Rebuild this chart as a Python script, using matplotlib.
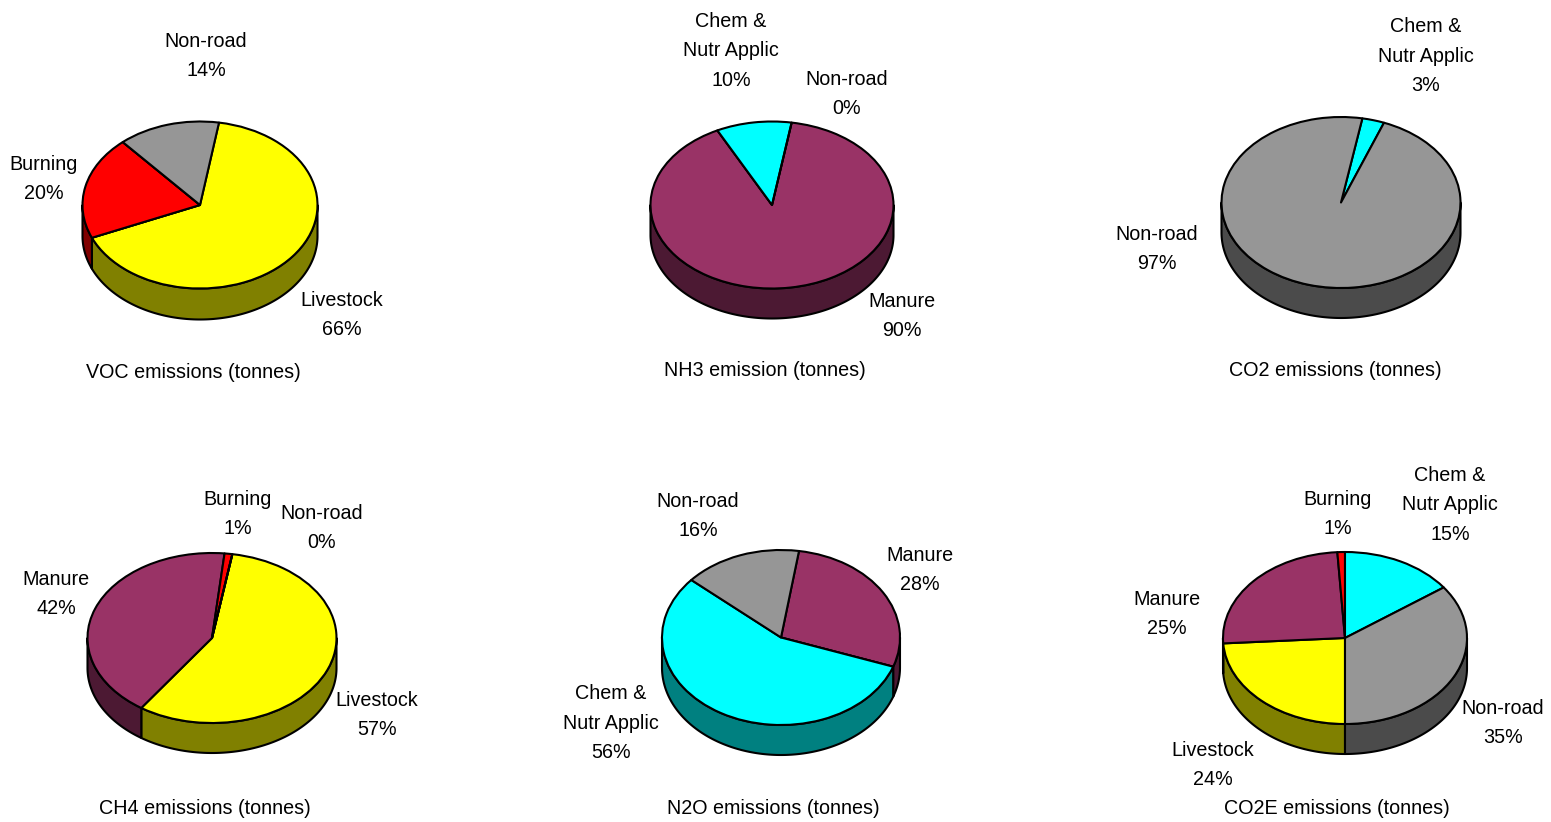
import matplotlib
matplotlib.use("Agg")
import matplotlib.pyplot as plt
import numpy as np

W, H, DPI = 1551, 822, 100

# Source categories, in the order the slices run clockwise
categories = ["Livestock", "Manure", "Burning", "Chem &\nNutr Applic", "Non-road"]
top_colors = ["#FFFF00", "#993366", "#FF0000", "#00FFFF", "#969696"]
side_colors = ["#808000", "#4C1933", "#800000", "#008080", "#4B4B4B"]

# Share of emissions (%) by source
voc = [66, 0, 20, 0, 14]
nh3 = [0, 90, 0, 10, 0]
co2 = [0, 0, 0, 3, 97]
ch4 = [57, 42, 1, 0, 0]
n2o = [0, 28, 0, 56, 16]
co2e = [24, 25, 1, 15, 35]

titles = ["VOC emissions (tonnes)", "NH3 emission (tonnes)", "CO2 emissions (tonnes)",
          "CH4 emissions (tonnes)", "N2O emissions (tonnes)", "CO2E emissions (tonnes)"]

# Angle of the first slice, degrees clockwise from 12 o'clock
first_slice = [9.3, 9.3, 10.3, 9.4, 8.7, 180.0]

# Layout in pixels: centre x, centre y, x radius, y radius, depth
geometry = [
    (200, 205, 117.5, 83.5, 31),
    (772, 205, 121.5, 83.5, 30),
    (1341, 202.5, 119.5, 85.5, 30),
    (212, 638, 124.5, 85, 30),
    (781, 637.5, 119, 87.5, 30),
    (1345, 638, 122, 86, 30),
]
title_pos = [(193, 372), (765, 370), (1335, 370), (205, 808), (773, 808), (1337, 808)]
# Data-label positions (pixels) keyed by category index
label_pos = [
    {4: (206, 56), 2: (44, 179), 0: (342, 315)},
    {3: (731, 51), 4: (847, 94), 1: (902, 316)},
    {3: (1426, 56), 4: (1157, 249)},
    {2: (238, 514), 4: (322, 528), 1: (56, 594), 0: (377, 715)},
    {4: (698, 516), 1: (920, 570), 3: (611, 723)},
    {2: (1338, 514), 3: (1450, 505), 1: (1167, 614), 4: (1503, 723), 0: (1213, 765)},
]

FONT = dict(family="Liberation Sans", size=14.2, color="black")
LW = 1.5

fig = plt.figure(figsize=(W / DPI, H / DPI), dpi=DPI, facecolor="white")


def ftext(x, y, s, **kw):
    fig.text(x / W, 1 - y / H, s, ha="center", va="center", multialignment="center",
             linespacing=1.71, **FONT, **kw)


def draw_pie(values, geom, start):
    cx, cy, rx, ry, depth = geom
    d = depth / ry
    pad = 0.1
    x0, x1 = cx - rx * (1 + pad), cx + rx * (1 + pad)
    ytop, ybot = cy - ry * (1 + pad), cy + ry * (1 + pad) + depth
    ax = fig.add_axes([x0 / W, 1 - ybot / H, (x1 - x0) / W, (ybot - ytop) / H])
    wedges, _ = ax.pie(values, colors=top_colors, startangle=90 - start,
                       counterclock=False, normalize=True,
                       wedgeprops=dict(edgecolor="black", linewidth=LW, zorder=3,
                                       joinstyle="round"))
    ax.set_aspect("auto")
    ax.set_xlim(-1 - pad, 1 + pad)
    ax.set_ylim(-1 - pad - d, 1 + pad)
    ax.axis("off")
    # Side walls of the front half of each slice
    for w, sc in zip(wedges, side_colors):
        a, b = w.theta1, w.theta2
        if b - a <= 0:
            continue
        for k in range(-2, 3):
            lo, hi = max(a, 180 + 360 * k), min(b, 360 + 360 * k)
            if hi > lo:
                t = np.radians(np.linspace(lo, hi, 200))
                xs = np.concatenate([np.cos(t), np.cos(t[::-1])])
                ys = np.concatenate([np.sin(t), np.sin(t[::-1]) - d])
                ax.fill(xs, ys, facecolor=sc, edgecolor="black", linewidth=LW,
                        zorder=1, joinstyle="round", clip_on=False)
    for w in wedges:
        w.set_clip_on(False)
    return ax


series = [voc, nh3, co2, ch4, n2o, co2e]
for vals, geom, start, title, tpos, lpos in zip(series, geometry, first_slice,
                                                titles, title_pos, label_pos):
    draw_pie(vals, geom, start)
    ftext(*tpos, title)
    for idx, (lx, ly) in lpos.items():
        ftext(lx, ly, f"{categories[idx]}\n{vals[idx]}%")

fig.savefig("out.png", dpi=DPI, facecolor="white")
